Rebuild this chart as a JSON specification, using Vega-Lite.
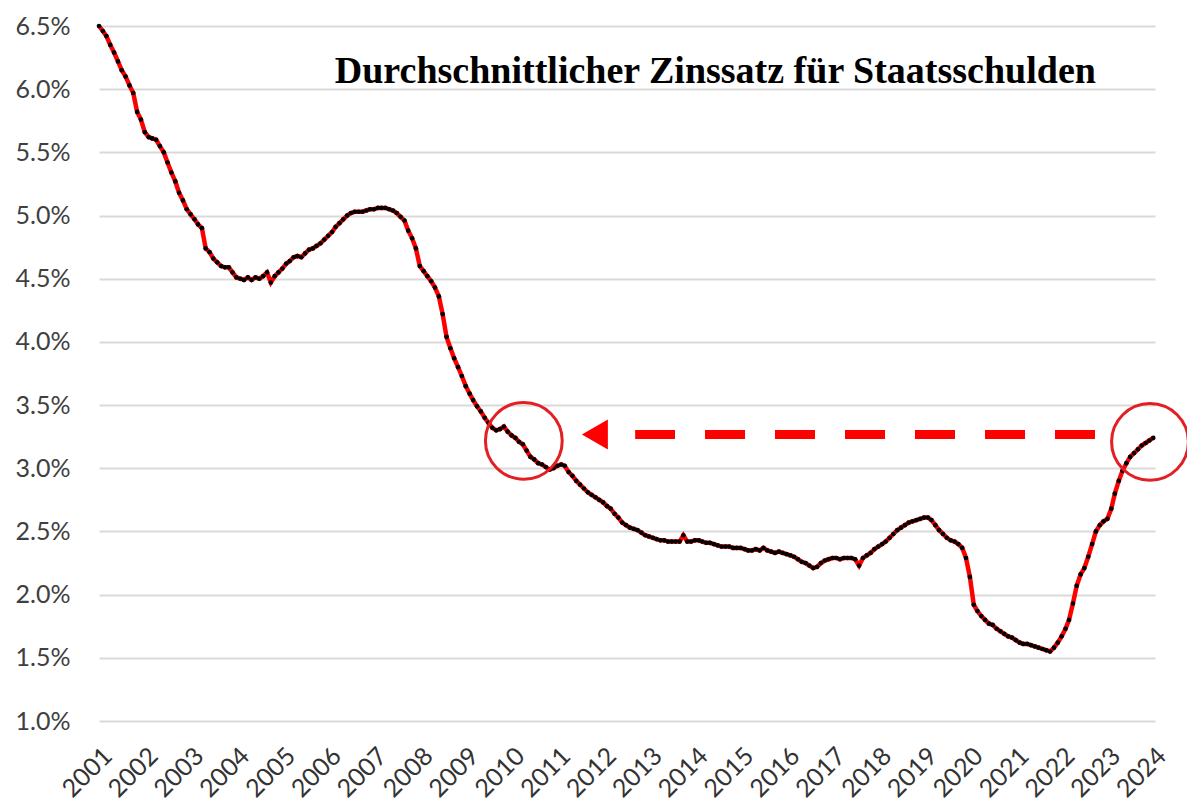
{
  "$schema": "https://vega.github.io/schema/vega-lite/v6.json",
  "autosize": {"type": "none"},
  "width": 1056,
  "height": 695,
  "padding": {"left": 99, "top": 26, "right": 32, "bottom": 82},
  "background": "white",
  "config": {"view": {"stroke": null}},
  "datasets": {
    "rate": [
      {"d":"2001-01-01","r":6.50},{"d":"2001-02-01","r":6.46},{"d":"2001-03-01","r":6.42},{"d":"2001-04-01","r":6.35},{"d":"2001-05-01","r":6.29},{"d":"2001-06-01","r":6.22},{"d":"2001-07-01","r":6.15},{"d":"2001-08-01","r":6.10},{"d":"2001-09-01","r":6.03},{"d":"2001-10-01","r":5.97},{"d":"2001-11-01","r":5.82},{"d":"2001-12-01","r":5.76},
      {"d":"2002-01-01","r":5.66},{"d":"2002-02-01","r":5.62},{"d":"2002-03-01","r":5.61},{"d":"2002-04-01","r":5.60},{"d":"2002-05-01","r":5.55},{"d":"2002-06-01","r":5.50},{"d":"2002-07-01","r":5.42},{"d":"2002-08-01","r":5.34},{"d":"2002-09-01","r":5.27},{"d":"2002-10-01","r":5.18},{"d":"2002-11-01","r":5.12},{"d":"2002-12-01","r":5.05},
      {"d":"2003-01-01","r":5.01},{"d":"2003-02-01","r":4.97},{"d":"2003-03-01","r":4.93},{"d":"2003-04-01","r":4.90},{"d":"2003-05-01","r":4.74},{"d":"2003-06-01","r":4.71},{"d":"2003-07-01","r":4.66},{"d":"2003-08-01","r":4.63},{"d":"2003-09-01","r":4.60},{"d":"2003-10-01","r":4.59},{"d":"2003-11-01","r":4.59},{"d":"2003-12-01","r":4.55},
      {"d":"2004-01-01","r":4.51},{"d":"2004-02-01","r":4.50},{"d":"2004-03-01","r":4.49},{"d":"2004-04-01","r":4.51},{"d":"2004-05-01","r":4.49},{"d":"2004-06-01","r":4.51},{"d":"2004-07-01","r":4.50},{"d":"2004-08-01","r":4.52},{"d":"2004-09-01","r":4.55},{"d":"2004-10-01","r":4.47},{"d":"2004-11-01","r":4.52},{"d":"2004-12-01","r":4.55},
      {"d":"2005-01-01","r":4.58},{"d":"2005-02-01","r":4.62},{"d":"2005-03-01","r":4.64},{"d":"2005-04-01","r":4.67},{"d":"2005-05-01","r":4.68},{"d":"2005-06-01","r":4.67},{"d":"2005-07-01","r":4.70},{"d":"2005-08-01","r":4.73},{"d":"2005-09-01","r":4.74},{"d":"2005-10-01","r":4.76},{"d":"2005-11-01","r":4.78},{"d":"2005-12-01","r":4.81},
      {"d":"2006-01-01","r":4.84},{"d":"2006-02-01","r":4.87},{"d":"2006-03-01","r":4.91},{"d":"2006-04-01","r":4.94},{"d":"2006-05-01","r":4.97},{"d":"2006-06-01","r":5.00},{"d":"2006-07-01","r":5.02},{"d":"2006-08-01","r":5.03},{"d":"2006-09-01","r":5.03},{"d":"2006-10-01","r":5.03},{"d":"2006-11-01","r":5.04},{"d":"2006-12-01","r":5.05},
      {"d":"2007-01-01","r":5.05},{"d":"2007-02-01","r":5.06},{"d":"2007-03-01","r":5.06},{"d":"2007-04-01","r":5.06},{"d":"2007-05-01","r":5.05},{"d":"2007-06-01","r":5.04},{"d":"2007-07-01","r":5.02},{"d":"2007-08-01","r":4.99},{"d":"2007-09-01","r":4.96},{"d":"2007-10-01","r":4.88},{"d":"2007-11-01","r":4.82},{"d":"2007-12-01","r":4.74},
      {"d":"2008-01-01","r":4.60},{"d":"2008-02-01","r":4.56},{"d":"2008-03-01","r":4.52},{"d":"2008-04-01","r":4.48},{"d":"2008-05-01","r":4.43},{"d":"2008-06-01","r":4.36},{"d":"2008-07-01","r":4.22},{"d":"2008-08-01","r":4.04},{"d":"2008-09-01","r":3.95},{"d":"2008-10-01","r":3.87},{"d":"2008-11-01","r":3.80},{"d":"2008-12-01","r":3.73},
      {"d":"2009-01-01","r":3.65},{"d":"2009-02-01","r":3.59},{"d":"2009-03-01","r":3.54},{"d":"2009-04-01","r":3.49},{"d":"2009-05-01","r":3.45},{"d":"2009-06-01","r":3.40},{"d":"2009-07-01","r":3.36},{"d":"2009-08-01","r":3.32},{"d":"2009-09-01","r":3.30},{"d":"2009-10-01","r":3.31},{"d":"2009-11-01","r":3.33},{"d":"2009-12-01","r":3.29},
      {"d":"2010-01-01","r":3.26},{"d":"2010-02-01","r":3.24},{"d":"2010-03-01","r":3.21},{"d":"2010-04-01","r":3.19},{"d":"2010-05-01","r":3.14},{"d":"2010-06-01","r":3.09},{"d":"2010-07-01","r":3.07},{"d":"2010-08-01","r":3.04},{"d":"2010-09-01","r":3.03},{"d":"2010-10-01","r":3.01},{"d":"2010-11-01","r":2.99},{"d":"2010-12-01","r":3.00},
      {"d":"2011-01-01","r":3.02},{"d":"2011-02-01","r":3.03},{"d":"2011-03-01","r":3.02},{"d":"2011-04-01","r":2.97},{"d":"2011-05-01","r":2.94},{"d":"2011-06-01","r":2.90},{"d":"2011-07-01","r":2.87},{"d":"2011-08-01","r":2.84},{"d":"2011-09-01","r":2.81},{"d":"2011-10-01","r":2.79},{"d":"2011-11-01","r":2.77},{"d":"2011-12-01","r":2.75},
      {"d":"2012-01-01","r":2.73},{"d":"2012-02-01","r":2.70},{"d":"2012-03-01","r":2.68},{"d":"2012-04-01","r":2.64},{"d":"2012-05-01","r":2.61},{"d":"2012-06-01","r":2.57},{"d":"2012-07-01","r":2.55},{"d":"2012-08-01","r":2.53},{"d":"2012-09-01","r":2.52},{"d":"2012-10-01","r":2.51},{"d":"2012-11-01","r":2.49},{"d":"2012-12-01","r":2.47},
      {"d":"2013-01-01","r":2.46},{"d":"2013-02-01","r":2.45},{"d":"2013-03-01","r":2.44},{"d":"2013-04-01","r":2.43},{"d":"2013-05-01","r":2.43},{"d":"2013-06-01","r":2.42},{"d":"2013-07-01","r":2.42},{"d":"2013-08-01","r":2.42},{"d":"2013-09-01","r":2.42},{"d":"2013-10-01","r":2.47},{"d":"2013-11-01","r":2.42},{"d":"2013-12-01","r":2.42},
      {"d":"2014-01-01","r":2.43},{"d":"2014-02-01","r":2.43},{"d":"2014-03-01","r":2.42},{"d":"2014-04-01","r":2.41},{"d":"2014-05-01","r":2.41},{"d":"2014-06-01","r":2.40},{"d":"2014-07-01","r":2.39},{"d":"2014-08-01","r":2.38},{"d":"2014-09-01","r":2.38},{"d":"2014-10-01","r":2.38},{"d":"2014-11-01","r":2.37},{"d":"2014-12-01","r":2.37},
      {"d":"2015-01-01","r":2.37},{"d":"2015-02-01","r":2.36},{"d":"2015-03-01","r":2.35},{"d":"2015-04-01","r":2.35},{"d":"2015-05-01","r":2.36},{"d":"2015-06-01","r":2.35},{"d":"2015-07-01","r":2.37},{"d":"2015-08-01","r":2.35},{"d":"2015-09-01","r":2.34},{"d":"2015-10-01","r":2.33},{"d":"2015-11-01","r":2.34},{"d":"2015-12-01","r":2.33},
      {"d":"2016-01-01","r":2.32},{"d":"2016-02-01","r":2.31},{"d":"2016-03-01","r":2.30},{"d":"2016-04-01","r":2.28},{"d":"2016-05-01","r":2.26},{"d":"2016-06-01","r":2.25},{"d":"2016-07-01","r":2.23},{"d":"2016-08-01","r":2.21},{"d":"2016-09-01","r":2.22},{"d":"2016-10-01","r":2.25},{"d":"2016-11-01","r":2.27},{"d":"2016-12-01","r":2.28},
      {"d":"2017-01-01","r":2.29},{"d":"2017-02-01","r":2.29},{"d":"2017-03-01","r":2.28},{"d":"2017-04-01","r":2.29},{"d":"2017-05-01","r":2.29},{"d":"2017-06-01","r":2.29},{"d":"2017-07-01","r":2.28},{"d":"2017-08-01","r":2.23},{"d":"2017-09-01","r":2.29},{"d":"2017-10-01","r":2.31},{"d":"2017-11-01","r":2.33},{"d":"2017-12-01","r":2.36},
      {"d":"2018-01-01","r":2.38},{"d":"2018-02-01","r":2.40},{"d":"2018-03-01","r":2.42},{"d":"2018-04-01","r":2.45},{"d":"2018-05-01","r":2.48},{"d":"2018-06-01","r":2.51},{"d":"2018-07-01","r":2.53},{"d":"2018-08-01","r":2.55},{"d":"2018-09-01","r":2.57},{"d":"2018-10-01","r":2.58},{"d":"2018-11-01","r":2.59},{"d":"2018-12-01","r":2.60},
      {"d":"2019-01-01","r":2.61},{"d":"2019-02-01","r":2.61},{"d":"2019-03-01","r":2.59},{"d":"2019-04-01","r":2.55},{"d":"2019-05-01","r":2.51},{"d":"2019-06-01","r":2.48},{"d":"2019-07-01","r":2.45},{"d":"2019-08-01","r":2.43},{"d":"2019-09-01","r":2.42},{"d":"2019-10-01","r":2.40},{"d":"2019-11-01","r":2.37},{"d":"2019-12-01","r":2.29},
      {"d":"2020-01-01","r":2.14},{"d":"2020-02-01","r":1.92},{"d":"2020-03-01","r":1.87},{"d":"2020-04-01","r":1.83},{"d":"2020-05-01","r":1.80},{"d":"2020-06-01","r":1.77},{"d":"2020-07-01","r":1.76},{"d":"2020-08-01","r":1.73},{"d":"2020-09-01","r":1.71},{"d":"2020-10-01","r":1.69},{"d":"2020-11-01","r":1.67},{"d":"2020-12-01","r":1.66},
      {"d":"2021-01-01","r":1.64},{"d":"2021-02-01","r":1.62},{"d":"2021-03-01","r":1.61},{"d":"2021-04-01","r":1.61},{"d":"2021-05-01","r":1.60},{"d":"2021-06-01","r":1.59},{"d":"2021-07-01","r":1.58},{"d":"2021-08-01","r":1.57},{"d":"2021-09-01","r":1.56},{"d":"2021-10-01","r":1.55},{"d":"2021-11-01","r":1.58},{"d":"2021-12-01","r":1.62},
      {"d":"2022-01-01","r":1.67},{"d":"2022-02-01","r":1.73},{"d":"2022-03-01","r":1.80},{"d":"2022-04-01","r":1.93},{"d":"2022-05-01","r":2.07},{"d":"2022-06-01","r":2.16},{"d":"2022-07-01","r":2.21},{"d":"2022-08-01","r":2.30},{"d":"2022-09-01","r":2.40},{"d":"2022-10-01","r":2.50},{"d":"2022-11-01","r":2.55},{"d":"2022-12-01","r":2.58},
      {"d":"2023-01-01","r":2.60},{"d":"2023-02-01","r":2.68},{"d":"2023-03-01","r":2.80},{"d":"2023-04-01","r":2.90},{"d":"2023-05-01","r":2.98},{"d":"2023-06-01","r":3.04},{"d":"2023-07-01","r":3.09},{"d":"2023-08-01","r":3.12},{"d":"2023-09-01","r":3.15},{"d":"2023-10-01","r":3.18},{"d":"2023-11-01","r":3.20},{"d":"2023-12-01","r":3.22},
      {"d":"2024-01-01","r":3.24}
    ],
    "arrow": [{"d":"2022-09-24","d2":"2012-09-12","r":3.268}],
    "head": [{"d":"2011-10-27","r":3.268}],
    "rings": [{"d":"2010-04-09","r":3.217},{"d":"2023-12-06","r":3.209}],
    "label": [{"d":"2014-06-13","r":6.05,"t":"Durchschnittlicher Zinssatz für Staatsschulden"}]
  },
  "layer": [
    {
      "data": {"name": "rate"},
      "mark": {"type": "line", "color": "#ff0000", "strokeWidth": 4.5},
      "encoding": {
        "x": {
          "field": "d", "type": "temporal",
          "scale": {"type": "utc", "domain": [{"year": 2001, "month": 1, "date": 1, "utc": true}, {"year": 2024, "month": 1, "date": 15, "utc": true}], "nice": false},
          "axis": {
            "title": null, "format": "%Y", "tickCount": {"interval": "year", "step": 1},
            "grid": false, "domain": false, "ticks": false,
            "labelAngle": -45, "labelAlign": "right", "labelBaseline": "top", "labelPadding": 22,
            "labelFont": "Lato", "labelFontSize": 25, "labelColor": "#333333",
            "labelOverlap": false, "labelBound": false, "labelFlush": false
          }
        },
        "y": {
          "field": "r", "type": "quantitative",
          "scale": {"domain": [1, 6.5], "nice": false, "zero": false},
          "axis": {
            "title": null, "values": [1, 1.5, 2, 2.5, 3, 3.5, 4, 4.5, 5, 5.5, 6, 6.5],
            "labelExpr": "format(datum.value, '.1f') + '%'",
            "grid": true, "gridColor": "#d9d9d9", "gridWidth": 2,
            "domain": false, "ticks": false, "labelPadding": 29,
            "labelFont": "Lato", "labelFontSize": 25, "labelColor": "#404040"
          }
        }
      }
    },
    {
      "data": {"name": "rate"},
      "mark": {"type": "point", "shape": "circle", "filled": true, "color": "#000000", "size": 22, "opacity": 1},
      "encoding": {
        "x": {"field": "d", "type": "temporal"},
        "y": {"field": "r", "type": "quantitative"}
      }
    },
    {
      "data": {"name": "arrow"},
      "mark": {"type": "rule", "color": "#ff0000", "strokeWidth": 9, "strokeDash": [40, 30], "strokeCap": "butt"},
      "encoding": {
        "x": {"field": "d", "type": "temporal"},
        "x2": {"field": "d2"},
        "y": {"field": "r", "type": "quantitative"}
      }
    },
    {
      "data": {"name": "head"},
      "mark": {"type": "point", "shape": "triangle-left", "filled": true, "color": "#ff0000", "size": 900, "opacity": 1},
      "encoding": {
        "x": {"field": "d", "type": "temporal"},
        "y": {"field": "r", "type": "quantitative"}
      }
    },
    {
      "data": {"name": "rings"},
      "mark": {"type": "point", "shape": "circle", "filled": false, "stroke": "#e31e24", "strokeWidth": 3, "size": 5900, "opacity": 1},
      "encoding": {
        "x": {"field": "d", "type": "temporal"},
        "y": {"field": "r", "type": "quantitative"}
      }
    },
    {
      "data": {"name": "label"},
      "mark": {"type": "text", "font": "Liberation Serif", "fontWeight": "bold", "fontSize": 38, "color": "#000000", "align": "center", "baseline": "alphabetic"},
      "encoding": {
        "x": {"field": "d", "type": "temporal"},
        "y": {"field": "r", "type": "quantitative"},
        "text": {"field": "t"}
      }
    }
  ]
}
